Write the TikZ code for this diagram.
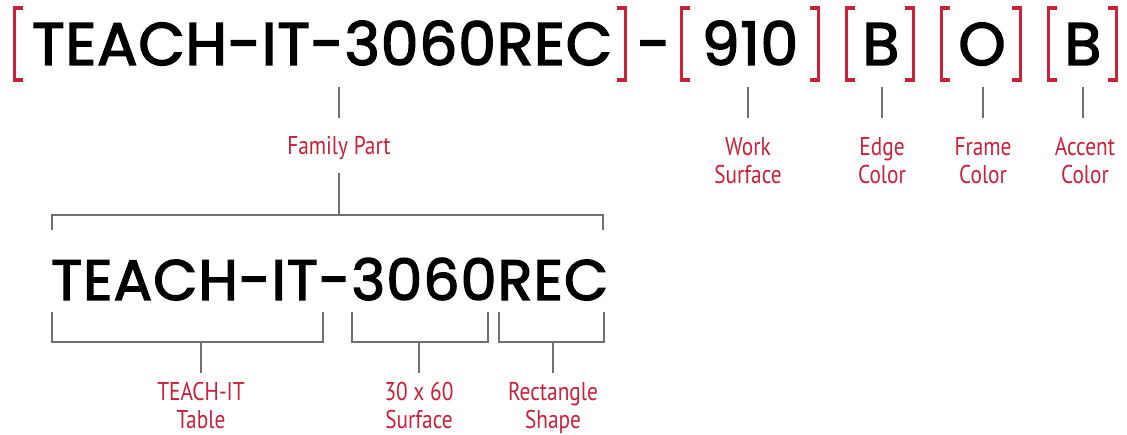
\documentclass[tikz,border=0pt]{standalone}
\usepackage{fontspec}
\newfontfamily\mainf[FakeBold=2.5,LetterSpace=1.4]{Poppins}
\newfontfamily\mainb[FakeBold=2.5,LetterSpace=2.1]{Poppins}
\newfontfamily\labf[FakeStretch=0.83]{PT Sans}
\definecolor{cred}{HTML}{C8213A}
\definecolor{cgray}{HTML}{707070}
\tikzset{
  bigtop/.style={font=\mainf\fontsize{60}{60}\selectfont, inner sep=0pt, text=black},
  bigbot/.style={font=\mainb\fontsize{57}{57}\selectfont, inner sep=0pt, text=black},
  lab/.style={font=\labf\fontsize{25.7}{28.5}\selectfont, text=cred, align=center, inner sep=0pt, anchor=base},
  redbr/.style={draw=cred, line width=3.5pt, line join=miter},
  gline/.style={draw=cgray, line width=1.8pt},
}
\begin{document}
\begin{tikzpicture}[x=1pt,y=-1pt]
\useasboundingbox (0,0) rectangle (1127,435);
% top row
\node[bigtop, anchor=base west] (pn) at (32,65) {TEACH-IT-3060REC};
\node[bigtop, anchor=base] (dash) at (654,65) {-};
\node[bigtop, anchor=base] (ws) at (750,65) {910};
\node[bigtop, anchor=base] (ec) at (881,65) {B};
\node[bigtop, anchor=base] (fc) at (982,65) {O};
\node[bigtop, anchor=base] (ac) at (1083,65) {B};
% red brackets
\draw[redbr] (23,8) -- (14.5,8) -- (14.5,80) -- (23,80);
\draw[redbr] (617,8) -- (625.5,8) -- (625.5,80) -- (617,80);
\draw[redbr] (690,8) -- (681.5,8) -- (681.5,80) -- (690,80);
\draw[redbr] (810,8) -- (818.5,8) -- (818.5,80) -- (810,80);
\draw[redbr] (855,8) -- (846.5,8) -- (846.5,80) -- (855,80);
\draw[redbr] (905,8) -- (913.5,8) -- (913.5,80) -- (905,80);
\draw[redbr] (950,8) -- (941.5,8) -- (941.5,80) -- (950,80);
\draw[redbr] (1012,8) -- (1020.5,8) -- (1020.5,80) -- (1012,80);
\draw[redbr] (1057,8) -- (1048.5,8) -- (1048.5,80) -- (1057,80);
\draw[redbr] (1108,8) -- (1116.5,8) -- (1116.5,80) -- (1108,80);
% labels top (base anchor = last line)
\node[lab] (fp) at (339,155) {Family Part};
\node[lab] (wsl) at (748,184) {Work\\Surface};
\node[lab] (ecl) at (882,184) {Edge\\Color};
\node[lab] (fcl) at (983,184) {Frame\\Color};
\node[lab] (acl) at (1085,184) {Accent\\Color};
% ticks top
\draw[gline] (339,87) -- (339,118);
\draw[gline] (748,87) -- (748,118);
\draw[gline] (882,87) -- (882,118);
\draw[gline] (983,87) -- (983,118);
\draw[gline] (1083,87) -- (1083,118);
\draw[gline] (339,173) -- (339,215);
\draw[gline] (52,230) -- (52,215) -- (603,215) -- (603,230);
% bottom text
\node[bigbot, anchor=base west] (pn2) at (51,300) {TEACH-IT-3060REC};
% bottom brackets
\draw[gline] (52,312) -- (52,342) -- (323,342) -- (323,312);
\draw[gline] (201,342) -- (201,373);
\draw[gline] (352,312) -- (352,342) -- (488,342) -- (488,312);
\draw[gline] (419,342) -- (419,373);
\draw[gline] (499,312) -- (499,342) -- (604,342) -- (604,312);
\draw[gline] (553,342) -- (553,373);
% bottom labels
\node[lab] (tl) at (201,428.5) {TEACH-IT\\Table};
\node[lab] (sl) at (419,428.5) {30 x 60\\Surface};
\node[lab] (rl) at (553,428.5) {Rectangle\\Shape};
\end{tikzpicture}
\end{document}
